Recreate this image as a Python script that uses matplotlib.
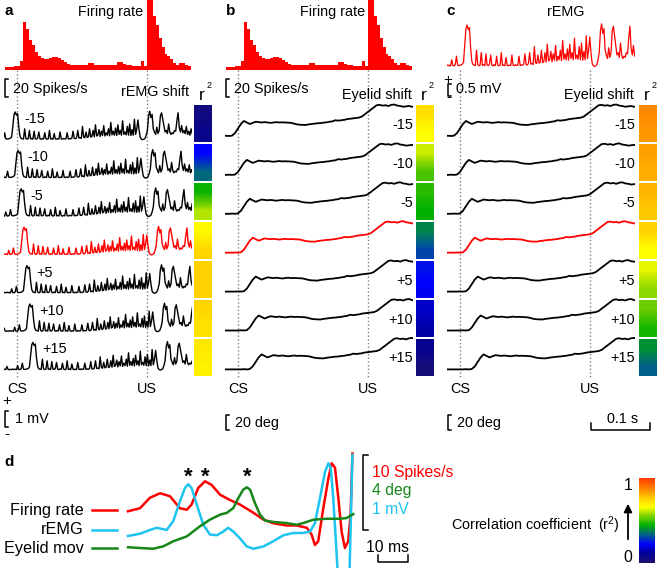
import numpy as np
import matplotlib
matplotlib.use("Agg")
import matplotlib.pyplot as plt
from matplotlib.colors import LinearSegmentedColormap, Normalize
from matplotlib.cm import ScalarMappable
from matplotlib.transforms import blended_transform_factory

plt.rcParams['font.family'] = ['Liberation Sans', 'DejaVu Sans']
plt.rcParams['mathtext.default'] = 'regular'

#------------------------------------------------------------
# values

shifts = [-15, -10, -5, 0, 5, 10, 15]                      # ms
shift_labels = ['-15', '-10', '-5', '', '+5', '+10', '+15']
cs_time, us_time = 0, 220                                  # ms

# firing rate, 5 ms bins from -20 ms (spikes/s)
rate_t0, rate_bin = -20, 5
firing_rate = [3, 3, 3, 4, 4, 10, 53, 46, 33, 28,
               20, 16, 13, 12, 12, 13, 14, 14, 13, 11,
               9, 7, 6, 5, 5, 5, 5, 6, 8, 8,
               6, 5, 5, 5, 5, 6, 5, 6, 9, 9,
               7, 5, 5, 4, 4, 4, 10, 4, 88, 80,
               60, 50, 35, 25, 18, 15, 12, 8, 6, 8,
               8, 5, 4]

# rectified EMG, 2 ms steps from -40 ms (mV)
emg_t0, emg_dt = -40, 2
remg = [0.06, 0.04, 0.08, 0.05, 0.25, 0.06, 0.04, 0.07, 0.05, 0.09,
        0.05, 0.08, 0.04, 0.30, 0.06, 0.05, 0.10, 0.45, 0.08, 0.06,
        0.07, 0.09, 0.12, 0.20, 0.90, 1.60, 1.75, 1.55, 1.65, 0.80,
        0.25, 0.10, 0.08, 0.06, 0.70, 0.10, 0.05, 0.08, 0.60, 0.07,
        0.10, 0.05, 0.55, 0.08, 0.06, 0.12, 0.50, 0.07, 0.05, 0.10,
        0.06, 0.45, 0.08, 0.05, 0.07, 0.60, 0.06, 0.09, 0.05, 0.40,
        0.07, 0.05, 0.08, 0.06, 0.50, 0.07, 0.05, 0.10, 0.06, 0.08,
        0.45, 0.06, 0.09, 0.07, 0.12, 0.55, 0.10, 0.08, 0.15, 0.60,
        0.12, 0.15, 0.10, 0.85, 0.18, 0.14, 0.50, 0.16, 0.20, 0.70,
        0.18, 0.22, 0.60, 0.20, 0.95, 0.25, 0.30, 0.65, 0.22, 0.55,
        0.28, 0.90, 0.25, 0.45, 0.30, 0.70, 0.26, 1.10, 0.32, 0.55,
        0.30, 0.75, 0.28, 0.95, 0.35, 0.60, 0.30, 1.20, 0.35, 0.50,
        0.32, 0.85, 0.30, 1.00, 0.28, 0.65, 0.30, 1.30, 0.35, 0.70,
        1.25, 0.60, 0.15, 0.05, 0.02, 0.05, 0.10, 0.30, 0.60, 1.50,
        1.80, 1.40, 1.60, 0.70, 0.50, 0.35, 0.80, 0.40, 0.60, 1.50,
        1.70, 1.30, 0.90, 0.50, 0.60, 0.40, 1.00, 0.50, 0.35, 0.45,
        0.40, 0.60, 0.55, 1.20, 1.70, 0.80, 0.50, 0.90, 0.45, 0.60,
        0.40, 0.85, 0.35, 0.55, 0.30, 0.70, 0.40]

# eyelid position, 5 ms steps from -40 ms (deg)
eye_t0, eye_dt = -40, 5
eyelid = [0, 0, 0, 0, 0, 0, 0, 0.3, 0, 0.5,
          4, 10, 16, 20, 18, 16, 17.5, 19, 18.5, 18,
          18.5, 18, 17.5, 18, 18.5, 18, 18.2, 18, 17.8, 17.5,
          16.5, 15.5, 15, 14.8, 14.7, 15.5, 16, 16.5, 17, 17.2,
          17.8, 18.2, 19, 19.5, 21, 20.5, 21, 21.5, 22.5, 23,
          23.5, 24, 24.5, 26, 29, 32, 35, 38, 41, 41.5,
          40.5, 41, 40, 41.5, 42, 40.5, 40, 39, 39.5, 40,
          39, 39.5]

# r^2 of each shifted trace (top, bottom of its block)
r2_rate_remg = [(0.05, 0.08), (0.22, 0.34), (0.45, 0.60), (0.67, 0.75),
                (0.76, 0.76), (0.75, 0.72), (0.71, 0.69)]
r2_rate_eye = [(0.73, 0.66), (0.62, 0.51), (0.48, 0.44), (0.38, 0.30),
               (0.24, 0.21), (0.17, 0.14), (0.10, 0.03)]
r2_remg_eye = [(0.86, 0.84), (0.83, 0.81), (0.80, 0.77), (0.76, 0.66),
               (0.64, 0.57), (0.54, 0.46), (0.40, 0.33)]

# panel d (ms; spikes/s, mV, deg)
d_rate_t = [0, 4.0, 7.3, 10.7, 14.0, 17.3, 19.6, 21.2, 23.4, 25.7, 27.9,
            30.7, 34.0, 37.3, 41.8, 45.1, 48.4, 52.9, 56.2, 59.6, 61.2,
            62.3, 63.4, 65.1, 66.8, 67.9, 69.0, 70.1, 71.2, 72.3, 73.4,
            74.2, 74.8]
d_rate = [4.9, 5.3, 6.7, 7.3, 6.9, 5.3, 5.1, 5.8, 8.0, 8.9, 8.4,
          7.1, 6.4, 5.8, 4.7, 3.8, 3.3, 3.0, 3.0, 2.7, 1.8,
          0.4, 0.9, 5.3, 9.3, 11.3, 10.7, 6.7, 2.2, 0.0, 0.9,
          4.4, 12.6]
d_emg_t = [0, 4.0, 7.3, 9.6, 12.9, 15.1, 17.3, 19.0, 20.1, 21.2, 22.9,
           25.1, 27.3, 29.6, 31.8, 33.4, 35.1, 37.3, 39.6, 41.8, 45.1,
           48.4, 51.8, 55.1, 58.4, 60.7, 62.3, 64.0, 65.7, 66.8, 67.6,
           68.4, 69.3, 70.0, 73.8, 74.8]
d_emg = [0.16, 0.19, 0.24, 0.27, 0.24, 0.36, 0.62, 0.80, 0.85, 0.80, 0.58,
         0.31, 0.18, 0.17, 0.22, 0.27, 0.22, 0.13, 0.02, -0.01, 0.02,
         0.09, 0.17, 0.20, 0.20, 0.22, 0.33, 0.67, 1.02, 1.13, 1.07,
         0.67, 0.09, -0.40, -0.40, 1.24]
d_eye_t = [0, 4.0, 8.4, 11.8, 15.1, 19.6, 24.0, 27.3, 30.7, 32.9, 35.1,
           36.8, 38.4, 39.6, 40.7, 42.3, 44.0, 45.7, 48.4, 52.9, 56.2,
           58.4, 61.8, 66.2, 70.7, 72.9, 75.1]
d_eye = [0.04, 0.0, -0.04, 0.09, 0.36, 0.62, 1.16, 1.51, 1.78, 1.87, 2.13,
         2.67, 3.11, 3.24, 3.11, 2.40, 1.78, 1.46, 1.39, 1.33, 1.24,
         1.33, 1.51, 1.56, 1.56, 1.60, 1.81]
d_scales = [10, 1, 4]     # spikes/s, mV, deg per scale bar

#------------------------------------------------------------
# layout helpers (figure laid out in pixels)

W, H = 660, 568
PPM = 0.59            # px per ms, panels a-c
RED = '#ff0000'
CYAN = '#1ec4f0'
GREEN = '#16861a'
GREY = '#808080'
FS = 10.4

fig = plt.figure(figsize=(W / 100, H / 100), dpi=100)


def px_axes(x0, y0, x1, y1, off=True):
    ax = fig.add_axes([x0 / W, 1 - y1 / H, (x1 - x0) / W, (y1 - y0) / H])
    if off:
        ax.set_axis_off()
    return ax


def ftext(x, y, s, **kw):
    kw.setdefault('fontsize', FS)
    kw.setdefault('ha', 'center')
    kw.setdefault('va', 'center')
    fig.text(x / W, 1 - y / H, s, **kw)


cmap = LinearSegmentedColormap.from_list('r2', [
    (0.00, '#1c1070'), (0.12, '#000098'), (0.22, '#0000ff'),
    (0.33, '#00608a'), (0.44, '#00b000'), (0.56, '#80d400'),
    (0.66, '#ffff00'), (0.76, '#ffd200'), (0.86, '#ff8c00'),
    (1.00, '#ff3a00')])

t_rate = rate_t0 + rate_bin * np.arange(len(firing_rate))
rate_edges = np.append(t_rate, t_rate[-1] + rate_bin)
t_emg = emg_t0 + emg_dt * np.arange(len(remg))
t_eye = eye_t0 + eye_dt * np.arange(len(eyelid))
remg = np.array(remg)
eyelid = np.array(eyelid)


def time_axes(cs_px, y0, y1):
    ax = px_axes(cs_px - 13, y0, cs_px + 175, y1)
    ax.set_xlim(-13 / PPM, 175 / PPM)
    return ax


def rate_panel(cs_px, title_x):
    ax = time_axes(cs_px, 0, 70)
    ax.set_ylim(0, 70 / 0.9)
    ax.stairs(firing_rate, rate_edges, fill=True, color=RED, lw=0)
    ax.plot([-16, -21, -21, -16], [-10, -10, -30, -30], color='k', lw=1.1,
            clip_on=False)
    ftext(cs_px - 4, 89, '20 Spikes/s', ha='left')
    ftext(title_x, 12, 'Firing rate')


def stim_lines(ax, cs_px, top_px=70):
    tr = blended_transform_factory(ax.transData, fig.transFigure)
    for t in (cs_time, us_time):
        ax.plot([t, t], [1 - top_px / H, 1 - 378 / H], transform=tr, ls=':',
                color=GREY, lw=1, zorder=0, clip_on=False)
    ftext(cs_px + cs_time * PPM, 389, 'CS')
    ftext(cs_px + us_time * PPM, 389, 'US')


def r2_blocks(x0, r2):
    ax = px_axes(x0, 104, x0 + 18, 377)
    for k, (top, bot) in enumerate(r2):
        ax.imshow([[top], [bot]], cmap=cmap, vmin=0, vmax=1,
                  interpolation='bilinear', aspect='auto',
                  extent=(0, 1, 7 - k - 0.97, 7 - k - 0.03))
    ax.set_xlim(0, 1)
    ax.set_ylim(0, 7)
    ftext(x0 + 8, 96, 'r', fontsize=12.5)
    ftext(x0 + 15, 86, '2', fontsize=6.5)


#------------------------------------------------------------
# panel a: firing rate vs shifted rEMG
CS_A = 17
ftext(9, 11, 'a', fontweight='bold', fontsize=11)
rate_panel(CS_A, 111)

ax = time_axes(CS_A, 100, 380)
base, ppu, pitch = 140, 16, 38.4
ax.set_ylim((base - 380) / ppu, (base - 100) / ppu)
for k, (s, lab) in enumerate(zip(shifts, shift_labels)):
    off = -k * pitch / ppu
    ax.plot(t_emg + s, remg + off, color=RED if s == 0 else 'k', lw=1.0)
    ax.text(s + 27, off + 21 / ppu, lab, fontsize=FS, ha='left', va='center')
stim_lines(ax, CS_A)
y_bar = (base - 411) / ppu
ax.plot([-16, -21, -21, -16], [y_bar, y_bar, y_bar - 1, y_bar - 1],
        color='k', lw=1.1, clip_on=False)
ftext(7, 401, '+', fontsize=11)
ftext(7, 434, '-', fontsize=11)
ftext(15, 419, '1 mV', ha='left')
ftext(189, 92, 'rEMG shift', ha='right')
r2_blocks(194, r2_rate_remg)

#------------------------------------------------------------
# panels b and c: shifted eyelid traces
def eyelid_rows(cs_px, blocks_x, r2):
    ax = time_axes(cs_px, 100, 380)
    base, ppu, pitch = 136, 0.75, 38.9
    ax.set_ylim((base - 380) / ppu, (base - 100) / ppu)
    tr = blended_transform_factory(ax.transAxes, ax.transData)
    for k, (s, lab) in enumerate(zip(shifts, shift_labels)):
        off = -k * pitch / ppu
        ax.plot(t_eye + s, eyelid + off, color=RED if s == 0 else 'k', lw=1.3)
        ax.text(1.0, off + 11 / ppu, lab, transform=tr, fontsize=FS,
                ha='right', va='center')
    stim_lines(ax, cs_px)
    y_bar = (base - 415) / ppu
    ax.plot([-15, -20, -20, -15], [y_bar, y_bar, y_bar - 20, y_bar - 20],
            color='k', lw=1.1, clip_on=False)
    ftext(cs_px - 3, 423, '20 deg', ha='left')
    ftext(cs_px + 174, 95, 'Eyelid shift', ha='right')
    r2_blocks(blocks_x, r2)
    return ax, base, ppu


CS_B = 238
ftext(231, 11, 'b', fontweight='bold', fontsize=11)
rate_panel(CS_B, 333)
eyelid_rows(CS_B, 416, r2_rate_eye)

CS_C = 460
ftext(451, 11, 'c', fontweight='bold', fontsize=11)
ax = time_axes(CS_C, 0, 70)
ax.set_ylim(-3 / 24, 67 / 24)
ax.plot(t_emg, remg, color=RED, lw=0.9)
ax.plot([-16, -21, -21, -16], [-0.7, -0.7, -1.2, -1.2], color='k', lw=1.1,
        clip_on=False)
ftext(448, 80, '+', fontsize=11)
ftext(449, 97, '-', fontsize=11)
ftext(456, 89, '0.5 mV', ha='left')
ftext(566, 12, 'rEMG')
ax, base, ppu = eyelid_rows(CS_C, 639, r2_remg_eye)
y_bar = (base - 430) / ppu
ax.plot([221.5, 221.5, 321.5, 321.5], [y_bar + 9, y_bar, y_bar, y_bar + 9],
        color='k', lw=1.1, clip_on=False)
ftext(623, 419, '0.1 s')

#------------------------------------------------------------
# panel d
ftext(9, 462, 'd', fontweight='bold', fontsize=11)
axd = px_axes(0, 450, 420, 568)
axd.set_xlim(-128 / 3, 292 / 3)
axd.set_ylim(-20 / 75, 98 / 75)


def d_y(px):
    return (548 - px) / 75


curves = [(d_rate_t, d_rate, RED, 'Firing rate', 510),
          (d_emg_t, d_emg, CYAN, 'rEMG', 530),
          (d_eye_t, d_eye, GREEN, 'Eyelid mov', 548)]
for (t, v, col, name, ypx), sc in zip(curves, d_scales):
    t = np.array(t)
    v = np.array(v) / sc
    axd.plot(t, v, color=col, lw=1.8, solid_joinstyle='round')
    early = t < 50
    axd.text(t[early][np.argmax(v[early])], d_y(477), '*', fontsize=16,
             fontweight='bold', ha='center', va='center')
    axd.plot([-12, -3.7], [d_y(ypx), d_y(ypx)], color=col, lw=1.8)
    ftext(84, ypx, name, ha='right', fontsize=11.7)

axd.plot([80, 78.3, 78.3, 80], [d_y(455), d_y(455), d_y(455) - 1, d_y(455) - 1],
         color='k', lw=1.1, clip_on=False)
ftext(372, 473, '10 Spikes/s', ha='left', color=RED, fontsize=11.3)
ftext(372, 491, '4 deg', ha='left', color=GREEN, fontsize=11.3)
ftext(372, 510, '1 mV', ha='left', color=CYAN, fontsize=11.3)
axd.plot([83.3, 83.3, 93.3, 93.3],
         [d_y(555), d_y(561.7), d_y(561.7), d_y(555)], color='k', lw=1.1,
         clip_on=False)
ftext(388, 547, '10 ms', fontsize=11.3)

cax = px_axes(639, 478, 655, 563, off=False)
cb = fig.colorbar(ScalarMappable(Normalize(0, 1), cmap), cax=cax)
cb.outline.set_visible(False)
cb.set_ticks([])
ftext(628, 485, '1', fontsize=11.3)
ftext(628, 557, '0', fontsize=11.3)
axd.annotate('', xy=(628 / W, 1 - 501 / H), xytext=(628 / W, 1 - 542 / H),
             xycoords='figure fraction', annotation_clip=False,
             arrowprops=dict(arrowstyle='-|>', color='k', lw=1.3,
                             mutation_scale=12))
ftext(620, 525, 'Correlation coefficient  (r$^2$)', ha='right')

fig.savefig('out.png', dpi=100)
